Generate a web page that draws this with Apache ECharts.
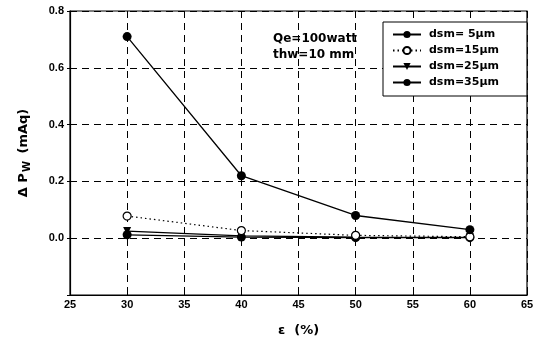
<!DOCTYPE html>
<html>
<head>
<meta charset="utf-8">
<script src="https://cdn.jsdelivr.net/npm/echarts@6/dist/echarts.min.js"></script>
<style>
  html, body { margin: 0; padding: 0; background: #fff; }
  #chart { width: 544px; height: 338px; }
</style>
</head>
<body>
<div id="chart"></div>
<script>
// Porosity (%) on the x axis
const porosity = [30, 40, 50, 60];

// Wick pressure drop (mAq) for each mean pore diameter
const dsm5 = [0.71, 0.22, 0.08, 0.03];
const dsm15 = [0.078, 0.027, 0.010, 0.005];
const dsm25 = [0.025, 0.008, 0.004, 0.003];
const dsm35 = [0.012, 0.004, 0.002, 0.002];

const seriesNames = ['dsm= 5\u03bcm', 'dsm=15\u03bcm', 'dsm=25\u03bcm', 'dsm=35\u03bcm'];

const pair = (ys) => porosity.map((x, i) => [x, ys[i]]);

const font = 'Arial, "Liberation Sans", sans-serif';
const wide = '"DejaVu Sans", Arial, sans-serif';

const chart = echarts.init(document.getElementById('chart'), null, { renderer: 'canvas' });

chart.setOption({
  backgroundColor: '#fff',
  animation: false,
  grid: {
    left: 70, right: 17, top: 11, bottom: 43,
    outerBoundsMode: 'none',
    containLabel: false,
    show: true, borderColor: '#000', borderWidth: 1.2, backgroundColor: 'transparent'
  },
  legend: {
    orient: 'vertical',
    left: 383, top: 22,
    padding: [6, 28, 7, 9],
    itemGap: 3,
    itemWidth: 28,
    itemHeight: 9,
    backgroundColor: '#fff',
    borderColor: '#000',
    borderWidth: 1,
    data: seriesNames,
    textStyle: { fontFamily: wide, fontSize: 11, fontWeight: 'bold', color: '#000', padding: [0, 0, 0, 3], height: 13, lineHeight: 13 }
  },
  xAxis: {
    type: 'value',
    min: 25, max: 65, interval: 5,
    name: '\u03b5  (%)',
    nameLocation: 'middle',
    nameGap: 29,
    nameTextStyle: { fontFamily: wide, fontSize: 13, fontWeight: 'bold', color: '#000' },
    axisLine: { show: true, onZero: false, lineStyle: { color: '#000', width: 1.2 } },
    axisTick: { show: true, inside: true, length: 4, lineStyle: { color: '#000' } },
    axisLabel: { fontFamily: font, fontSize: 11, fontWeight: 'bold', color: '#000', margin: 4 },
    splitLine: { show: true, lineStyle: { color: '#000', type: [7, 5], width: 1 } }
  },
  yAxis: {
    type: 'value',
    min: -0.2, max: 0.8, interval: 0.2,
    name: '{d|\u0394 P}{s|W}{d| (mAq)}',
    nameLocation: 'middle',
    nameGap: 38,
    nameRotate: 90,
    nameTextStyle: {
      color: '#000',
      rich: {
        d: { fontFamily: wide, fontSize: 13, fontWeight: 'bold', color: '#000' },
        s: { fontFamily: wide, fontSize: 10, fontWeight: 'bold', color: '#000', verticalAlign: 'bottom', padding: [7, 3, 0, 1] }
      }
    },
    axisLine: { show: true, onZero: false, lineStyle: { color: '#000', width: 1.2 } },
    axisTick: { show: true, inside: false, length: 3, lineStyle: { color: '#000' } },
    axisLabel: {
      fontFamily: font, fontSize: 11, fontWeight: 'bold', color: '#000', margin: 6,
      formatter: (v) => (Math.abs(v + 0.2) < 1e-9 ? '' : v.toFixed(1))
    },
    splitLine: { show: true, lineStyle: { color: '#000', type: [7, 5], width: 1 } }
  },
  graphic: [
    {
      type: 'text', left: 273, top: 31,
      style: {
        text: 'Qe=100watt\nthw=10 mm',
        font: 'bold 12px ' + wide,
        fill: '#000',
        lineHeight: 16
      }
    }
  ],
  series: [
    {
      name: seriesNames[0], type: 'line', data: pair(dsm5),
      symbol: 'circle', symbolSize: 9,
      itemStyle: { color: '#000' },
      lineStyle: { color: '#000', width: 1.3, type: 'solid' },
      z: 5
    },
    {
      name: seriesNames[1], type: 'line', data: pair(dsm15),
      symbol: 'circle', symbolSize: 8,
      itemStyle: { color: '#fff', borderColor: '#000', borderWidth: 1.2 },
      lineStyle: { color: '#000', width: 1.2, type: [1.5, 3] },
      z: 4
    },
    {
      name: seriesNames[2], type: 'line', data: pair(dsm25),
      symbol: 'triangle', symbolRotate: 180, symbolSize: 8,
      itemStyle: { color: '#000' },
      lineStyle: { color: '#000', width: 1.3, type: 'solid' },
      z: 3
    },
    {
      name: seriesNames[3], type: 'line', data: pair(dsm35),
      symbol: 'circle', symbolSize: 9,
      itemStyle: { color: '#000' },
      lineStyle: { color: '#000', width: 1.3, type: 'solid' },
      z: 3
    }
  ]
});
</script>
</body>
</html>
